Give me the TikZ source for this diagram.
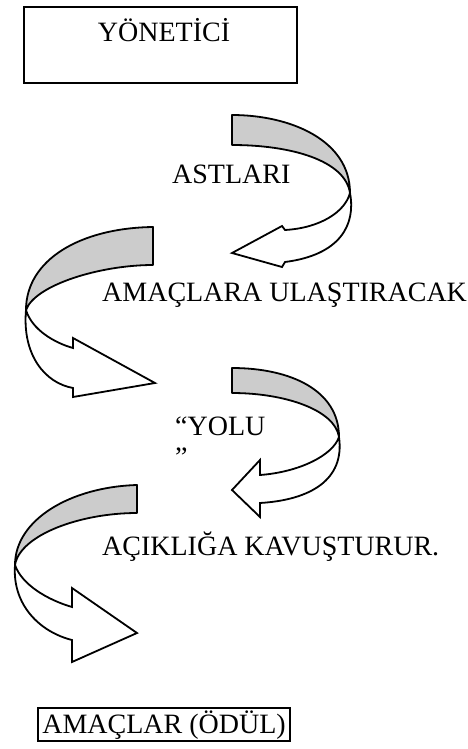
\documentclass[tikz,border=0pt]{standalone}
\usepackage{fontspec}
\setmainfont{Liberation Serif}
\begin{document}
\begin{tikzpicture}[x=1pt,y=-1pt,
  lbl/.style={anchor=base west,inner sep=0pt,font=\fontsize{28}{32}\selectfont},
  frame/.style={draw,line width=1.1pt,inner sep=0pt},
  face/.style={draw,line width=1.8pt,line join=miter,fill=white},
  back/.style={draw,line width=1.8pt,line join=round,fill=black!20}]
\useasboundingbox (0,0) rectangle (467,749);

% boxes
\node[frame,minimum width=273pt,minimum height=76pt] (boss) at (160.5,45) {};
\node[lbl,anchor=base] (bosstxt) at (164,42) {YÖNETİCİ};
\node[frame,minimum width=252pt,minimum height=33pt] (goal) at (164,724.5) {};
\node[lbl,anchor=base] (goaltxt) at (164,733) {AMAÇLAR (ÖDÜL)};

% text lines
\node[lbl] (t1) at (172,183) {ASTLARI};
\node[lbl] (t2) at (102,301) {AMAÇLARA ULAŞTIRACAK};
\node[lbl] (t3) at (175,435) {“YOLU};
\node[lbl] (t3b) at (175,466) {”};
\node[lbl] (t4) at (102,555) {AÇIKLIĞA KAVUŞTURUR.};

% curved arrow 1 (turns right, points left)
\draw[face] (350,193) .. controls (345,212) and (320,228) .. (285,230)
  -- (282,226) -- (232,253) -- (282,267) -- (285,262)
  .. controls (340,255) and (356,225) .. cycle;
\draw[back] (232,115) .. controls (290,115) and (350,140) .. (350,193)
  .. controls (345,160) and (290,145) .. (232,145) -- cycle;

% curved arrow 2 (turns left, points right)
\draw[face] (26,310) .. controls (32,330) and (55,343) .. (73,348)
  -- (73,338) -- (155,383) -- (73,397) -- (73,388)
  .. controls (45,383) and (22,355) .. cycle;
\draw[back] (153,227) .. controls (80,228) and (26,260) .. (26,310)
  .. controls (35,285) and (100,265) .. (153,265) -- cycle;

% curved arrow 3 (turns right, points left)
\draw[face] (339,437) .. controls (333,455) and (300,472) .. (260,475)
  -- (260,460) -- (232,490) -- (260,517) -- (260,503)
  .. controls (310,500) and (345,480) .. cycle;
\draw[back] (232,368) .. controls (290,368) and (339,390) .. (339,437)
  .. controls (335,410) and (285,393) .. (232,393) -- cycle;

% curved arrow 4 (turns left, points right)
\draw[face] (15,565) .. controls (22,585) and (48,600) .. (72,607)
  -- (72,588) -- (137,633) -- (72,662) -- (72,640)
  .. controls (40,632) and (12,605) .. cycle;
\draw[back] (137,485) .. controls (70,487) and (15,520) .. (15,565)
  .. controls (20,535) and (80,513) .. (137,513) -- cycle;
\end{tikzpicture}
\end{document}
